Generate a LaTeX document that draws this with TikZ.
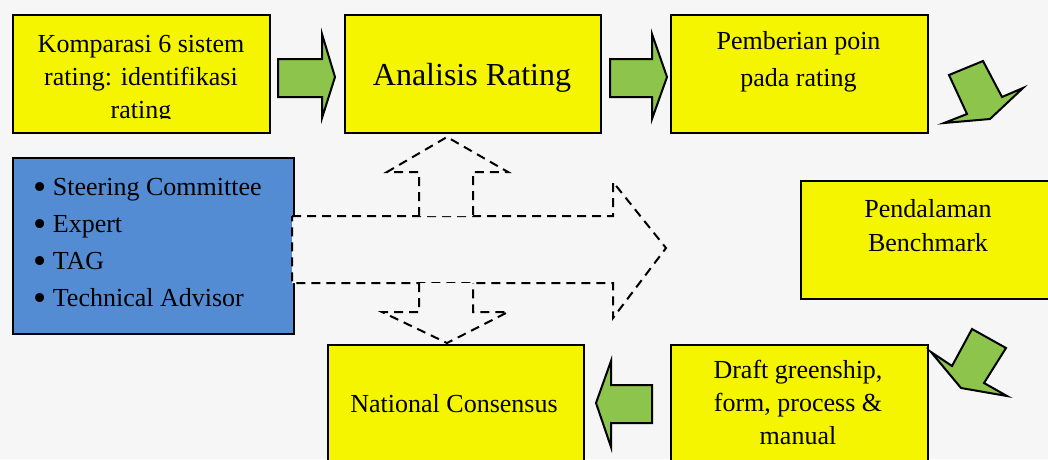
\documentclass[tikz,border=0pt]{standalone}
\usepackage{fontspec}
\setmainfont{Liberation Serif}

\definecolor{stageyellow}{RGB}{245,245,0}
\definecolor{teamblue}{RGB}{84,140,212}
\definecolor{flowgreen}{RGB}{140,196,76}
\definecolor{pagegray}{RGB}{246,246,246}

\newcommand{\teambullet}{\raisebox{-4.5pt}{\scalebox{1.45}{\textbullet}}}

\tikzset{
  stage/.style={draw=black,line width=2pt,fill=stageyellow,anchor=north west,inner sep=0pt},
  team/.style={draw=black,line width=2pt,fill=teamblue,anchor=north west,inner sep=0pt},
  stagetext/.style={anchor=north,align=center,inner sep=0pt,font=\fontsize{26}{34}\selectfont},
  flowarrow/.style={draw=black,line width=2pt,fill=flowgreen,line join=miter},
  dasharrow/.style={draw=black,line width=2pt,fill=pagegray,dash pattern=on 9pt off 6pt}
}

\begin{document}
\begin{tikzpicture}[x=1pt,y=-1pt]
  \clip (0,0) rectangle (1048,459);
  \fill[pagegray] (0,0) rectangle (1048,459);

  % the stages
  \node[stage,minimum width=257pt,minimum height=118pt] (komparasi) at (12,14) {};
  \node[stage,minimum width=256pt,minimum height=118pt] (analisis) at (344,14) {};
  \node[stage,minimum width=257pt,minimum height=118pt] (pemberian) at (670,14) {};
  \node[stage,minimum width=300pt,minimum height=118pt] (pendalaman) at (800,180) {};
  \node[stage,minimum width=257pt,minimum height=150pt] (draft) at (670,344) {};
  \node[stage,minimum width=256pt,minimum height=150pt] (consensus) at (327,344) {};
  \node[team,minimum width=281pt,minimum height=176pt] (team) at (12,157) {};

  % texts
  \begin{scope}
    \clip (12,14) rectangle (269,118);
    \node[stagetext,font=\fontsize{26}{33}\selectfont] (komparasi text) at (141,29.5)
      {\strut Komparasi 6 sistem\\rating: identifikasi\\rating};
  \end{scope}
  \node[anchor=base,inner sep=0pt,font=\fontsize{32}{38}\selectfont] (analisis text) at (472,85) {Analisis Rating};
  \node[stagetext,font=\fontsize{26}{37}\selectfont] (pemberian text) at (798.5,23) {\strut Pemberian poin\\pada rating};
  \node[stagetext] (pendalaman text) at (928,193) {\strut Pendalaman\\Benchmark};
  \node[stagetext,font=\fontsize{26}{33}\selectfont] (draft text) at (798,355) {\strut Draft greenship,\\form, process \&\\manual};
  \node[anchor=base,inner sep=0pt,font=\fontsize{26}{34}\selectfont] (consensus text) at (454,412) {National Consensus};
  \node[anchor=north west,align=left,inner sep=0pt,font=\fontsize{26}{37}\selectfont] (team text) at (33,169)
    {\strut\teambullet\ Steering Committee\\\teambullet\ Expert\\\teambullet\ TAG\\\teambullet\ Technical Advisor};

  % dashed arrows from the team
  \path[dasharrow] (292,216) -- (613,216) -- (613,182) -- (666,248) -- (613,318) -- (613,283) -- (292,283) -- cycle;
  \path[dasharrow] (419,216) -- (419,172) -- (387,172) -- (447,137) -- (508,172) -- (473,172) -- (473,216);
  \path[dasharrow] (419,283) -- (419,312) -- (382,312) -- (447,343) -- (508,312) -- (473,312) -- (473,283);

  % green flow arrows
  \draw[flowarrow] (278,59) -- (322,59) -- (322,34) -- (335,77) -- (322,118) -- (322,97) -- (278,97) -- cycle;
  \draw[flowarrow] (610,59) -- (652,59) -- (652,34) -- (667,77) -- (652,119) -- (652,97) -- (610,97) -- cycle;
  \draw[flowarrow] (983,61) -- (1002,97) -- (1023,88) -- (990,119) -- (944,123) -- (967,114) -- (949,75) -- cycle;
  \draw[flowarrow] (972,329) -- (1006,348) -- (984,383) -- (1007,396) -- (961,388) -- (931,352) -- (952,366) -- cycle;
  \draw[flowarrow] (652,385) -- (611,385) -- (611,361) -- (596,403) -- (611,447) -- (611,423) -- (652,423) -- cycle;
\end{tikzpicture}
\end{document}
